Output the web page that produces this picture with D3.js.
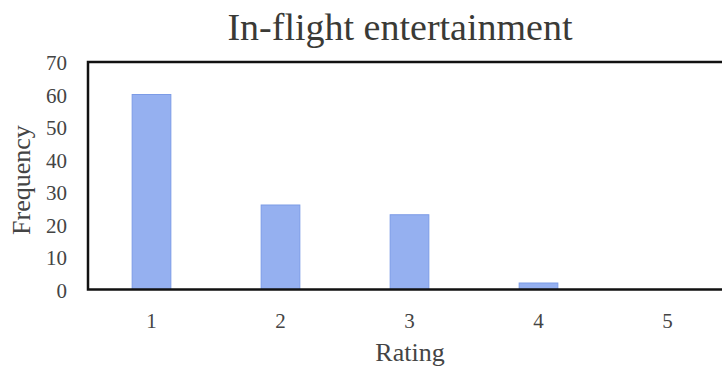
<!DOCTYPE html>
<html><head><meta charset="utf-8">
<script src="https://cdn.jsdelivr.net/npm/d3@7"></script>
<style>body{margin:0;background:#fff;} svg{display:block;}</style>
</head><body>
<svg id="c" width="722" height="373"></svg>
<script>
const categories = ["1","2","3","4","5"];
const values = [60, 26, 23, 2, 0];
const yTicks = [0,10,20,30,40,50,60,70];
const title = "In-flight entertainment";
const xLabel = "Rating";
const yLabel = "Frequency";

const svg = d3.select("#c");
const m = {left: 88, top: 62, bottom: 289.5};
const x = d3.scaleBand().domain(categories).range([87, 732]).paddingInner(0.7).paddingOuter(0.35);
const y = d3.scaleLinear().domain([0,70]).range([m.bottom, m.top]);
const font = "'Liberation Serif','Times New Roman',serif";

svg.append("text").attr("x", 400).attr("y", 40).attr("text-anchor","middle")
  .attr("font-family", font).attr("font-size", 38).attr("fill","#3a3a36").text(title);

svg.selectAll("rect.bar").data(values).join("rect").attr("class","bar")
  .attr("x",(d,i)=>x(categories[i])).attr("width",x.bandwidth())
  .attr("y",d=>y(d)).attr("height",d=>y(0)-y(d))
  .attr("fill","#95b0f0").attr("stroke","#7c9be6").attr("stroke-width",1)
  .style("display",d=>d>0?null:"none");

// frame
svg.append("path").attr("d",`M740,${y(70)} H${m.left} V${y(0)} H740`)
  .attr("fill","none").attr("stroke","#111").attr("stroke-width",2.5);

const yAxis = svg.append("g").attr("transform",`translate(${m.left},0)`)
  .call(d3.axisLeft(y).tickValues(yTicks).tickSize(0).tickPadding(21));
yAxis.select(".domain").remove();
yAxis.selectAll("text").attr("font-family",font).attr("font-size",21).attr("fill","#444")
  .attr("dy","0.36em");

const xAxis = svg.append("g").attr("transform",`translate(0,${y(0)})`)
  .call(d3.axisBottom(x).tickSize(0).tickPadding(24));
xAxis.select(".domain").remove();
xAxis.selectAll("text").attr("font-family",font).attr("font-size",21).attr("fill","#444");

svg.append("text").attr("x",410).attr("y",361).attr("text-anchor","middle")
  .attr("font-family",font).attr("font-size",26).attr("fill","#444").text(xLabel);
svg.append("text").attr("transform","translate(30,180) rotate(-90)").attr("text-anchor","middle")
  .attr("font-family",font).attr("font-size",26).attr("fill","#444").text(yLabel);
</script>
</body></html>
